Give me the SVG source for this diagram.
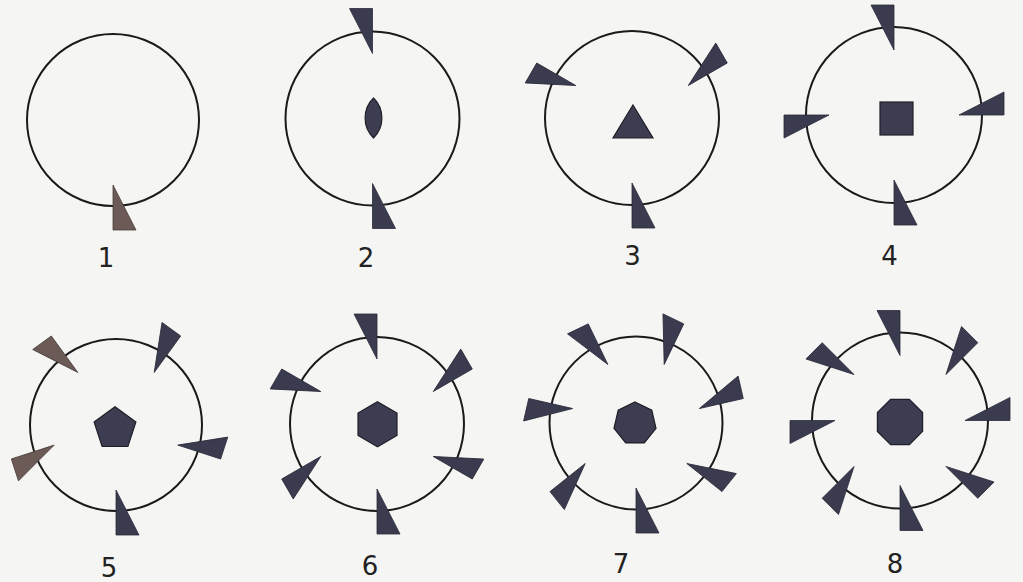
<svg xmlns="http://www.w3.org/2000/svg" xmlns:xlink="http://www.w3.org/1999/xlink" width="1023" height="582" viewBox="0 0 1023 582">
  <style>
    .ring { fill: none; stroke: #1a1a1a; stroke-width: 2; }
    .tooth { fill: #3b3b50; stroke: #2a2a38; stroke-width: 0.8; stroke-linejoin: miter; }
    .tooth.brown { fill: #6b5a55; stroke: #4a3d3a; }
    .core { fill: #3d3d52; stroke: #1e1e28; stroke-width: 1.2; }
    .label { font-family: "DejaVu Sans", "Liberation Sans", sans-serif; font-size: 26px; fill: #222; text-anchor: middle; }
  </style>
  <defs>
    <polygon id="tooth" points="65,0 110,0 110,-23"/>
  </defs>
  <rect x="0" y="0" width="1023" height="582" fill="#f5f5f3"/>

  <g id="node-1">
    <circle class="ring" cx="113" cy="120" r="86"/>
    <use xlink:href="#tooth" href="#tooth" class="tooth brown" transform="translate(113,120) rotate(90)"/>
    <text class="label" x="106" y="267">1</text>
  </g>

  <g id="node-2">
    <circle class="ring" cx="372.5" cy="118.5" r="87"/>
    <g transform="translate(372.5,118.5)">
      <use href="#tooth" class="tooth" transform="rotate(90)"/>
      <use href="#tooth" class="tooth" transform="rotate(270)"/>
    </g>
    <path class="core" d="M373.5,98 A28,28 0 0 1 373.5,138 A28,28 0 0 1 373.5,98 Z"/>
    <text class="label" x="366" y="267">2</text>
  </g>

  <g id="node-3">
    <circle class="ring" cx="632" cy="118" r="87"/>
    <g transform="translate(632,118)">
      <use href="#tooth" class="tooth" transform="rotate(90)"/>
      <use href="#tooth" class="tooth" transform="rotate(210)"/>
      <use href="#tooth" class="tooth" transform="rotate(330)"/>
    </g>
    <polygon class="core" points="633,105 653,138 613,138"/>
    <text class="label" x="632.5" y="265">3</text>
  </g>

  <g id="node-4">
    <circle class="ring" cx="894" cy="115" r="88"/>
    <g transform="translate(894,115)">
      <use href="#tooth" class="tooth" transform="rotate(0)"/>
      <use href="#tooth" class="tooth" transform="rotate(90)"/>
      <use href="#tooth" class="tooth" transform="rotate(180)"/>
      <use href="#tooth" class="tooth" transform="rotate(270)"/>
    </g>
    <rect class="core" x="880" y="102" width="33" height="33"/>
    <text class="label" x="889.5" y="265">4</text>
  </g>

  <g id="node-5">
    <circle class="ring" cx="116" cy="425" r="86"/>
    <g transform="translate(116,425)">
      <use href="#tooth" class="tooth" transform="rotate(90)"/>
      <use href="#tooth" class="tooth brown" transform="rotate(162)"/>
      <use href="#tooth" class="tooth brown" transform="rotate(234)"/>
      <use href="#tooth" class="tooth" transform="rotate(306)"/>
      <use href="#tooth" class="tooth" transform="rotate(18)"/>
    </g>
    <polygon class="core" points="115,406.7 135.9,421.9 127.9,446.5 102.1,446.5 94.1,421.9"/>
    <text class="label" x="109" y="577">5</text>
  </g>

  <g id="node-6">
    <circle class="ring" cx="377" cy="424" r="87"/>
    <g transform="translate(377,424)">
      <use href="#tooth" class="tooth" transform="rotate(90)"/>
      <use href="#tooth" class="tooth" transform="rotate(150)"/>
      <use href="#tooth" class="tooth" transform="rotate(210)"/>
      <use href="#tooth" class="tooth" transform="rotate(270)"/>
      <use href="#tooth" class="tooth" transform="rotate(330)"/>
      <use href="#tooth" class="tooth" transform="rotate(30)"/>
    </g>
    <polygon class="core" points="377.5,401.7 397,413 397,435.5 377.5,446.7 358,435.5 358,413"/>
    <text class="label" x="370" y="575">6</text>
  </g>

  <g id="node-7">
    <circle class="ring" cx="636" cy="423" r="86.5"/>
    <g transform="translate(636,423)">
      <use href="#tooth" class="tooth" transform="rotate(90)"/>
      <use href="#tooth" class="tooth" transform="rotate(141.43)"/>
      <use href="#tooth" class="tooth" transform="rotate(192.86)"/>
      <use href="#tooth" class="tooth" transform="rotate(244.29)"/>
      <use href="#tooth" class="tooth" transform="rotate(295.71)"/>
      <use href="#tooth" class="tooth" transform="rotate(347.14)"/>
      <use href="#tooth" class="tooth" transform="rotate(38.57)"/>
    </g>
    <polygon class="core" points="635,402 651.8,410.1 656,428.3 644.3,442.9 625.7,442.9 614,428.3 618.2,410.1"/>
    <text class="label" x="621" y="573">7</text>
  </g>

  <g id="node-8">
    <circle class="ring" cx="900" cy="420.5" r="88"/>
    <g transform="translate(900,420.5)">
      <use href="#tooth" class="tooth" transform="rotate(0)"/>
      <use href="#tooth" class="tooth" transform="rotate(45)"/>
      <use href="#tooth" class="tooth" transform="rotate(90)"/>
      <use href="#tooth" class="tooth" transform="rotate(135)"/>
      <use href="#tooth" class="tooth" transform="rotate(180)"/>
      <use href="#tooth" class="tooth" transform="rotate(225)"/>
      <use href="#tooth" class="tooth" transform="rotate(270)"/>
      <use href="#tooth" class="tooth" transform="rotate(315)"/>
    </g>
    <polygon class="core" points="922.6,431.4 909.4,444.6 890.6,444.6 877.4,431.4 877.4,412.6 890.6,399.4 909.4,399.4 922.6,412.6"/>
    <text class="label" x="895" y="573">8</text>
  </g>

  <g id="connectors"/>
</svg>
